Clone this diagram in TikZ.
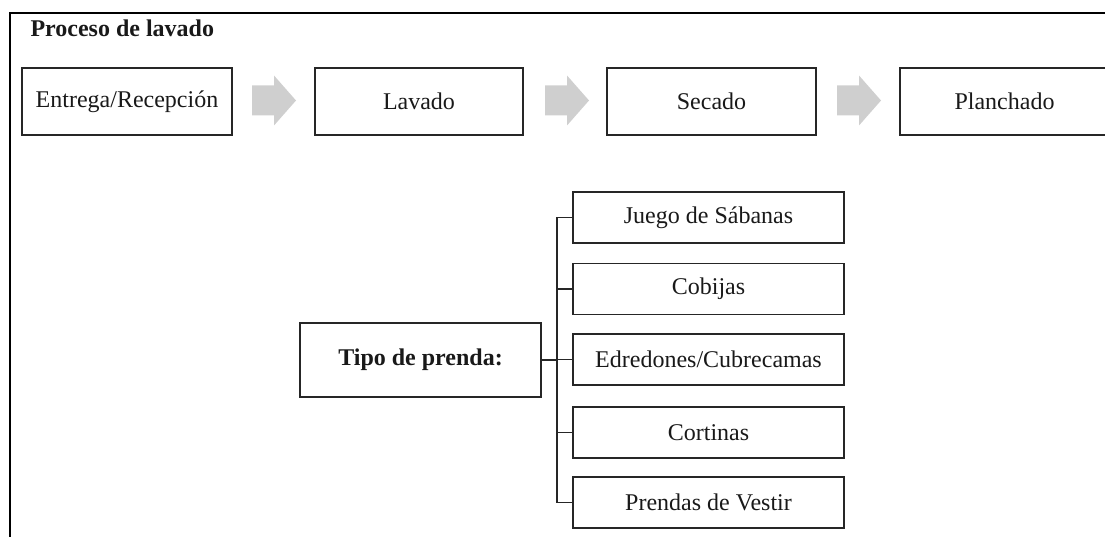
\documentclass[tikz,border=0pt]{standalone}
\usepackage{fontspec}
\setmainfont{Liberation Serif}
\begin{document}
\begin{tikzpicture}[x=1pt,y=-1pt,
  every node/.style={font=\fontsize{24}{28}\selectfont, text=black!90},
  procbox/.style={draw=black!85, line width=1.6pt, minimum height=67pt, inner sep=0pt},
  kidbox/.style={draw=black!85, line width=1.6pt, minimum width=271pt, minimum height=51pt, inner sep=0pt},
  conn/.style={draw=black!85, line width=1.4pt},
  frameline/.style={draw=black, line width=1.8pt},
  blockarrow/.pic={\fill[black!19] (0,-15) -- (22,-15) -- (22,-25) -- (44,0) -- (22,25) -- (22,15) -- (0,15) -- cycle;}]
\useasboundingbox (0,0) rectangle (1105,537);
\clip (0,0) rectangle (1105,537);
\draw[frameline] (10,538) -- (10,13) -- (1106,13);
\node[anchor=base west, font=\fontsize{24}{28}\selectfont\bfseries] (title) at (27,37) {Proceso de lavado};
\node[procbox, minimum width=210pt] (entrega) at (127,101.5) {Entrega/Recepción};
\node[procbox, minimum width=208pt] (lavado) at (419,101.5) {Lavado};
\node[procbox, minimum width=209pt] (secado) at (711.5,101.5) {Secado};
\node[procbox, minimum width=209pt] (planchado) at (1004.5,101.5) {Planchado};
\pic at (252,100.5) {blockarrow};
\pic at (545,100.5) {blockarrow};
\pic at (837,100.5) {blockarrow};
\node[draw=black!85, line width=1.6pt, minimum width=241pt, minimum height=74pt, inner sep=0pt, font=\fontsize{24}{28}\selectfont\bfseries] (tipo) at (420.5,360) {Tipo de prenda:};
\node[kidbox] (c1) at (708.5,217.5) {Juego de Sábanas};
\node[kidbox] (c2) at (708.5,289) {Cobijas};
\node[kidbox] (c3) at (708.5,359.5) {Edredones/Cubrecamas};
\node[kidbox] (c4) at (708.5,432.5) {Cortinas};
\node[kidbox] (c5) at (708.5,502.5) {Prendas de Vestir};
\coordinate (trunk) at (557,0);
\draw[conn] (tipo.east) -- (tipo.east -| trunk);
\draw[conn] (c1.west) -- (c1.west -| trunk) -- (c5.west -| trunk) -- (c5.west);
\draw[conn] (c2.west) -- (c2.west -| trunk);
\draw[conn] (c3.west) -- (c3.west -| trunk);
\draw[conn] (c4.west) -- (c4.west -| trunk);
\end{tikzpicture}
\end{document}
